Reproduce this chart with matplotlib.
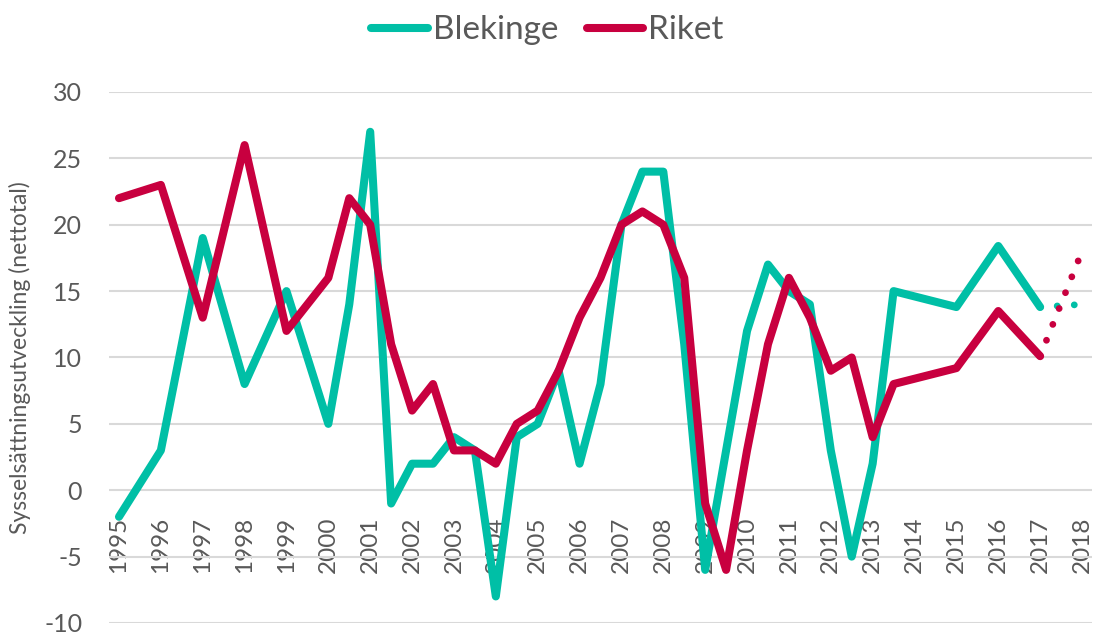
import matplotlib.pyplot as plt
from matplotlib.lines import Line2D

# Sysselsättningsutveckling, Blekinge vs Riket (halvår från 2000)
years = [1995, 1996, 1997, 1998, 1999, 2000, 2000.5, 2001, 2001.5, 2002, 2002.5,
         2003, 2003.5, 2004, 2004.5, 2005, 2005.5, 2006, 2006.5, 2007, 2007.5,
         2008, 2008.5, 2009, 2009.5, 2010, 2010.5, 2011, 2011.5, 2012, 2012.5,
         2013, 2013.5, 2015, 2016, 2017]
blekinge = [-2, 3, 19, 8, 15, 5, 14, 27, -1, 2, 2, 4, 3, -8, 4, 5, 9, 2, 8, 20, 24,
            24, 11, -6, 3, 12, 17, 15, 14, 3, -5, 2, 15, 13.8, 18.4, 13.8]
riket = [22, 23, 13, 26, 12, 16, 22, 20, 11, 6, 8, 3, 3, 2, 5, 6, 9, 13, 16, 20, 21,
         20, 16, -1, -6, 3, 11, 16, 13, 9, 10, 4, 8, 9.2, 13.5, 10.1]

# prognos (prickad)
years_prog = [2017, 2018]
blekinge_prog = [13.8, 14.0]
riket_prog = [10.1, 18.0]

tick_years = list(range(1995, 2019))
y_ticks = list(range(-10, 31, 5))

teal = '#00BFA6'
red = '#C8003F'
grey = '#595959'

plt.rcParams['font.family'] = ['Lato', 'DejaVu Sans']
plt.rcParams['axes.unicode_minus'] = False

fig = plt.figure(figsize=(10.95, 6.33), dpi=100)
ax = fig.add_axes([0.0991, 0.0158, 0.8986, 0.8389])

lw = 5.8
ax.plot(years, blekinge, color=teal, lw=lw, solid_capstyle='round', solid_joinstyle='round', zorder=3)
ax.plot(years, riket, color=red, lw=lw, solid_capstyle='round', solid_joinstyle='round', zorder=4)
ax.plot(years_prog, blekinge_prog, color=teal, lw=4.9, linestyle=(0, (0.01, 2.5)),
        dash_capstyle='round', zorder=3)
ax.plot(years_prog, riket_prog, color=red, lw=4.9, linestyle=(0, (0.01, 2.5)),
        dash_capstyle='round', zorder=4)

# x-axeln korsar vid 0
ax.spines['bottom'].set_position(('data', 0))
for s in ax.spines.values():
    s.set_visible(False)

ax.set_xlim(1994.75, 2018.25)
ax.set_ylim(-10, 30)
ax.set_yticks(y_ticks)
ax.set_xticks(tick_years)
ax.set_xticklabels([str(y) for y in tick_years], rotation=90, fontsize=17.5, color=grey)
ax.tick_params(axis='y', labelsize=18, labelcolor=grey, length=0, pad=19)
ax.tick_params(axis='x', length=0, pad=19)

ax.grid(axis='y', color='#D9D9D9', lw=1.5)
ax.set_axisbelow(True)

ax.set_ylabel('Sysselsättningsutveckling (nettotal)', fontsize=16.5, color=grey)
ax.yaxis.set_label_coords(-0.079, 0.5)

handles = [Line2D([], [], color=teal, lw=lw, solid_capstyle='round'),
           Line2D([], [], color=red, lw=lw, solid_capstyle='round')]
leg = fig.legend(handles, ['Blekinge', 'Riket'], loc='center', bbox_to_anchor=(0.5, 0.952),
                 ncol=2, frameon=False, fontsize=24, handlelength=1.7, handletextpad=0.15,
                 columnspacing=0.85)
for t in leg.get_texts():
    t.set_color(grey)

fig.savefig('out.png', dpi=100)
